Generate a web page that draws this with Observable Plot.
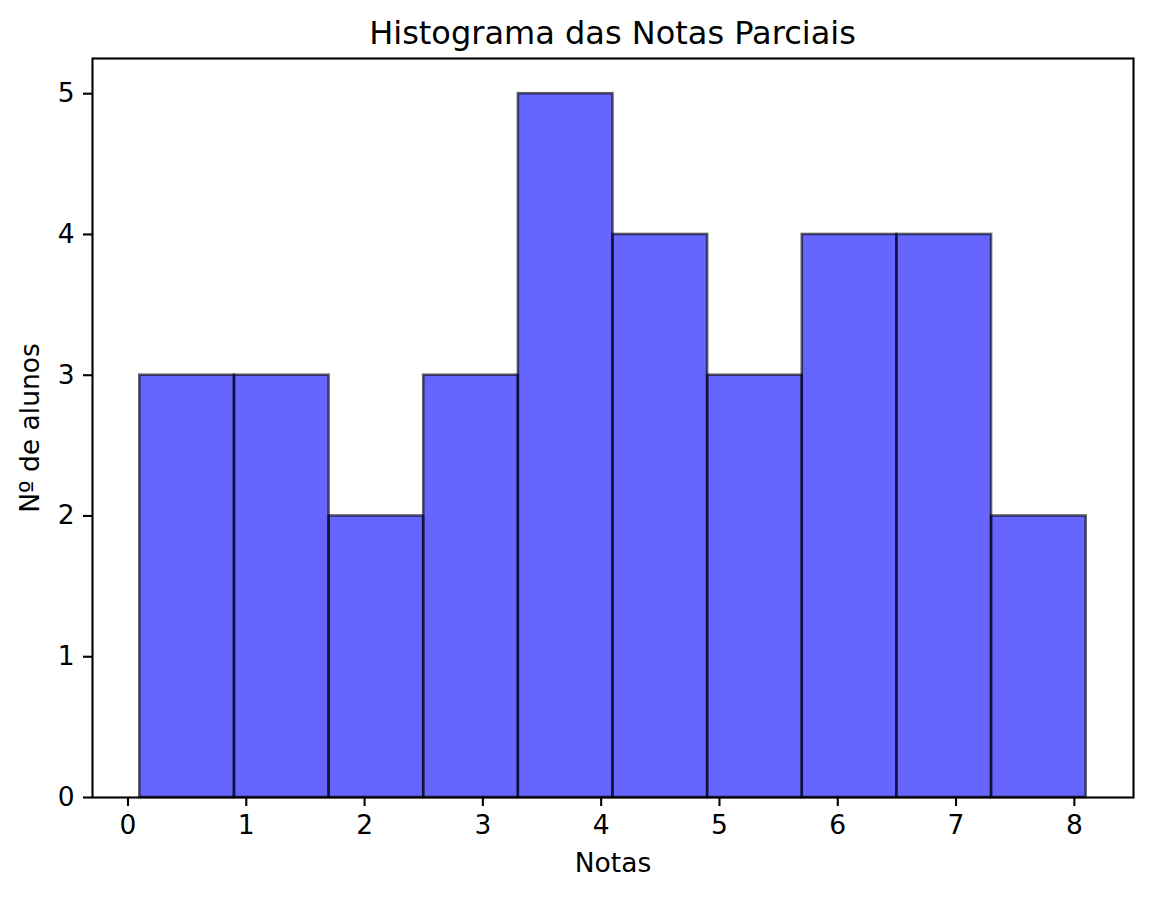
<!DOCTYPE html>
<html>
<head>
<meta charset="utf-8">
<script src="https://cdn.jsdelivr.net/npm/d3@7"></script>
<script src="https://cdn.jsdelivr.net/npm/@observablehq/plot@0.6"></script>
<style>
  html, body { margin: 0; padding: 0; background: #fff; }
  #wrap { width: 1152px; height: 898px; position: relative; font-family: "DejaVu Sans", sans-serif; }
  #title { height: 50px; position: relative; }
  #title span { position: absolute; left: 92px; width: 1041px; text-align: center; top: 16px; font-size: 32px; line-height: 34px; color: #000; }
</style>
</head>
<body>
<div id="wrap">
  <div id="title"><span>Histograma das Notas Parciais</span></div>
  <div id="chart"></div>
</div>
<script>
// Bin edges (Notas) and counts (Nº de alunos)
const binStart = [0.1, 0.9, 1.7, 2.5, 3.3, 4.1, 4.9, 5.7, 6.5, 7.3];
const binEnd   = [0.9, 1.7, 2.5, 3.3, 4.1, 4.9, 5.7, 6.5, 7.3, 8.1];
const counts   = [3, 3, 2, 3, 5, 4, 3, 4, 4, 2];
const xTicks = [0, 1, 2, 3, 4, 5, 6, 7, 8];
const yTicks = [0, 1, 2, 3, 4, 5];
const xLabel = "Notas";
const yLabel = "Nº de alunos";

const bins = counts.map((c, i) => ({x1: binStart[i], x2: binEnd[i], n: c}));

const chart = Plot.plot({
  width: 1152,
  height: 848,
  marginTop: 8,
  marginBottom: 101,
  marginLeft: 92,
  marginRight: 19,
  style: {fontFamily: "DejaVu Sans", fontSize: "26.5px", color: "#000", background: "#fff"},
  x: {domain: [-0.3, 8.5], label: null},
  y: {domain: [0, 5.25], label: null},
  marks: [
    Plot.rectY(bins, {x1: "x1", x2: "x2", y: "n", fill: "blue", fillOpacity: 0.6, stroke: "black", strokeOpacity: 0.6, strokeWidth: 2.6, inset: 0}),
    Plot.frame({stroke: "black", strokeWidth: 2.1}),
    Plot.axisX(xTicks, {tickSize: 9, tickPadding: 9, strokeWidth: 2.1, fontSize: 26.5, tickFormat: d => String(d)}),
    Plot.axisY(yTicks, {tickSize: 9, tickPadding: 9, strokeWidth: 2.1, fontSize: 26.5, tickFormat: d => String(d)}),
    Plot.text([xLabel], {frameAnchor: "bottom", dy: 66, lineAnchor: "middle", fontSize: 26.5, text: d => d}),
    Plot.text([yLabel], {frameAnchor: "left", dx: -62, rotate: -90, lineAnchor: "middle", textAnchor: "middle", fontSize: 26.5, text: d => d})
  ]
});
document.getElementById("chart").appendChild(chart);
</script>
</body>
</html>
